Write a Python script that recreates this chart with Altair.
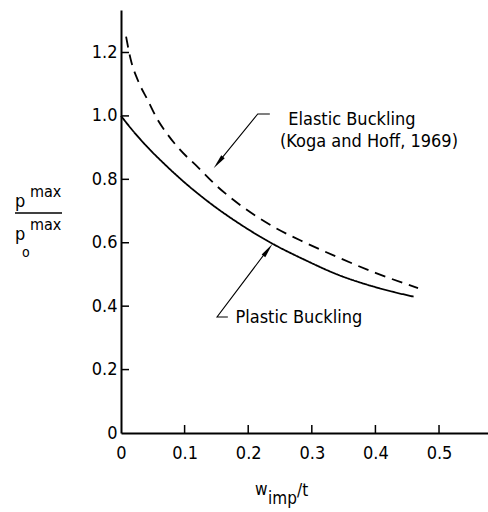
import altair as alt
import pandas as pd

FONT = "DejaVu Sans Condensed, Liberation Sans Narrow, DejaVu Sans"

# data
plastic_x = [0.0, 0.02, 0.04, 0.07, 0.10, 0.14, 0.19, 0.24, 0.29, 0.34, 0.40, 0.46]
plastic_y = [1.0, 0.95, 0.905, 0.845, 0.79, 0.725, 0.655, 0.595, 0.545, 0.50, 0.46, 0.43]
elastic_x = [0.008, 0.015, 0.027, 0.042, 0.057, 0.072, 0.092, 0.12, 0.15, 0.19, 0.24, 0.29, 0.34, 0.40, 0.467]
elastic_y = [1.25, 1.18, 1.11, 1.05, 0.99, 0.945, 0.895, 0.84, 0.78, 0.715, 0.65, 0.60, 0.555, 0.505, 0.457]
x_ticks = [0.0, 0.1, 0.2, 0.3, 0.4, 0.5]
y_ticks = [0.0, 0.2, 0.4, 0.6, 0.8, 1.0, 1.2]

labels_text = ["Elastic Buckling", "(Koga and Hoff, 1969)", "Plastic Buckling"]
labels_x = [0.263, 0.250, 0.180]
labels_y = [0.987, 0.918, 0.363]

arrow_id = ["e", "e", "e", "p", "p", "p"]
arrow_x = [0.234, 0.215, 0.155, 0.168, 0.151, 0.228]
arrow_y = [1.006, 1.006, 0.858, 0.366, 0.366, 0.571]
head_x = [0.153, 0.231]
head_y = [0.853, 0.577]
head_angle = [219, 37]

W, H = 367, 423
xs = alt.Scale(domain=[0, 0.577], nice=False, zero=False)
ys = alt.Scale(domain=[0, 1.334], nice=False, zero=False)

curves = pd.DataFrame({
    "x": plastic_x + elastic_x,
    "y": plastic_y + elastic_y,
    "s": ["plastic"] * len(plastic_x) + ["elastic"] * len(elastic_x),
    "i": list(range(len(plastic_x))) + list(range(len(elastic_x))),
})

xaxis = alt.Axis(values=x_ticks, ticks=False, grid=False, domainColor="black", domainWidth=2,
                 labelFont=FONT, labelFontSize=18, labelColor="black", labelPadding=11,
                 labelExpr="datum.value == 0 ? '0' : format(datum.value, '.1f')", labelFlush=False)
yaxis = alt.Axis(values=y_ticks, ticks=False, grid=False, domainColor="black", domainWidth=2,
                 labelFont=FONT, labelFontSize=18, labelColor="black", labelPadding=4,
                 labelExpr="datum.value == 0 ? '0' : format(datum.value, '.1f')", labelFlush=False)

lines = alt.Chart(curves).mark_line(color="black", strokeWidth=1.8, interpolate="monotone").encode(
    x=alt.X("x:Q", scale=xs, axis=xaxis, title=None),
    y=alt.Y("y:Q", scale=ys, axis=yaxis, title=None),
    strokeDash=alt.StrokeDash("s:N", scale=alt.Scale(domain=["plastic", "elastic"], range=[[1, 0], [11, 7]]), legend=None),
    order="i:Q",
)

xt = alt.Chart(pd.DataFrame({"x": x_ticks[1:]})).mark_rule(color="black", strokeWidth=1.5).encode(
    x=alt.X("x:Q", scale=xs, title=None), y=alt.value(H), y2=alt.value(H - 8))
yt = alt.Chart(pd.DataFrame({"y": y_ticks[1:]})).mark_rule(color="black", strokeWidth=1.5).encode(
    y=alt.Y("y:Q", scale=ys, title=None), x=alt.value(0), x2=alt.value(8))

labels = alt.Chart(pd.DataFrame({"x": labels_x, "y": labels_y, "t": labels_text})).mark_text(
    align="left", baseline="middle", font=FONT, fontSize=18, color="black").encode(
    x=alt.X("x:Q", scale=xs, title=None), y=alt.Y("y:Q", scale=ys, title=None), text="t:N")

arrows = alt.Chart(pd.DataFrame({"x": arrow_x, "y": arrow_y, "a": arrow_id, "i": list(range(6))})).mark_line(
    color="black", strokeWidth=1.1).encode(
    x=alt.X("x:Q", scale=xs, title=None), y=alt.Y("y:Q", scale=ys, title=None), detail="a:N", order="i:Q")

heads = alt.Chart(pd.DataFrame({"x": head_x, "y": head_y, "ang": head_angle})).mark_point(
    shape="M0,-1L-0.3,1L0.3,1Z", filled=True, color="black", size=220, opacity=1).encode(
    x=alt.X("x:Q", scale=xs, title=None), y=alt.Y("y:Q", scale=ys, title=None),
    angle=alt.Angle("ang:Q", scale=None))

# y-axis title: p^max / p_o^max
yt_parts = pd.DataFrame({
    "t": ["p", "max", "max", "p", "o"],
    "px": [-106, -91, -91, -106, -99],
    "py": [197, 187, 220, 230, 247],
    "fs": [18, 16, 16, 18, 14],
})
ytitle = alt.Chart(yt_parts).mark_text(align="left", baseline="alphabetic", font=FONT, color="black").encode(
    x=alt.X("px:Q", scale=None, title=None), y=alt.Y("py:Q", scale=None, title=None), text="t:N",
    size=alt.Size("fs:Q", scale=None, legend=None))
ybar = alt.Chart(pd.DataFrame({"a": [0]})).mark_rule(color="black", strokeWidth=1.5).encode(
    x=alt.value(-106), x2=alt.value(-59), y=alt.value(203))

xt_parts = pd.DataFrame({
    "t": ["w", "imp", "/t"],
    "px": [134, 147, 176],
    "py": [485, 494, 486],
    "fs": [17, 17, 17],
})
xtitle = alt.Chart(xt_parts).mark_text(align="left", baseline="alphabetic", font=FONT, color="black").encode(
    x=alt.X("px:Q", scale=None, title=None), y=alt.Y("py:Q", scale=None, title=None), text="t:N",
    size=alt.Size("fs:Q", scale=None, legend=None))

chart = alt.layer(lines, xt, yt, labels, arrows, heads, ytitle, ybar, xtitle).properties(
    width=W, height=H, autosize="none",
    padding={"left": 121, "top": 10, "right": 0, "bottom": 79},
).configure_view(stroke=None).configure_axis(grid=False)

chart.save("out.html", embed_options={"renderer": "svg", "actions": False})
